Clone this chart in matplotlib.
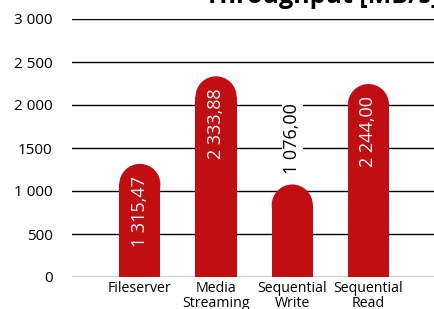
import matplotlib
matplotlib.use("Agg")
import matplotlib.pyplot as plt
from matplotlib.patches import Ellipse

categories = ["Fileserver", "Media\nStreaming", "Sequential\nWrite", "Sequential\nRead"]
values = [1315.47, 2333.88, 1076.00, 2244.00]
value_labels = ["1 315,47", "2 333,88", "1 076,00", "2 244,00"]
yticks = [0, 500, 1000, 1500, 2000, 2500, 3000]
ytick_labels = ["0", "500", "1 000", "1500", "2 000", "2 500", "3 000"]
title = "Throughput [MB/s]"

plt.rcParams["font.family"] = ["Open Sans", "DejaVu Sans"]
RED = "#c10e12"

W, H = 434, 309
fig = plt.figure(figsize=(W / 100, H / 100), dpi=100)
left, right, bottom, top = 72, 434, 277, 19
ax = fig.add_axes([left / W, (H - bottom) / H, (right - left) / W, (bottom - top) / H])

ax.set_xlim(-0.89, 3.86)
ax.set_ylim(0, 3000)

bw = 0.54
px_per_unit = (bottom - top) / 3000
px_per_x = (right - left) / (3.86 + 0.89)
r_y = (bw * px_per_x / 2) / px_per_unit

for y in yticks:
    ax.axhline(y, color="black", lw=1.0, zorder=1)

xs = range(len(values))
ax.bar(xs, [v - r_y for v in values], width=bw, color=RED, zorder=2, linewidth=0)
for i, v in enumerate(values):
    ax.add_patch(Ellipse((i, v - r_y), bw, 2 * r_y, color=RED, zorder=2, lw=0))

for i, (v, lab) in enumerate(zip(values, value_labels)):
    if v > 1200:
        ax.annotate(lab, (i, v), xytext=(0, -12), textcoords="offset pixels",
                    rotation=90, ha="center", va="top", color="white",
                    fontsize=13, zorder=3)
    else:
        ax.annotate(lab, (i, v), xytext=(0, 10), textcoords="offset pixels",
                    rotation=90, ha="center", va="bottom", color="black",
                    fontsize=13, zorder=3,
                    bbox=dict(facecolor="white", edgecolor="none", pad=1))

ax.set_xticks(list(xs))
ax.set_xticklabels(categories, fontsize=10.2, linespacing=0.95)
ax.set_yticks(yticks)
ax.set_yticklabels(ytick_labels, fontsize=11)
ax.tick_params(axis="both", length=0)
ax.tick_params(axis="y", pad=14)
ax.tick_params(axis="x", pad=3)
for s in ax.spines.values():
    s.set_visible(False)

fig.text(205 / W, (H - 3) / H, title, fontsize=18, fontweight="bold",
         ha="left", va="baseline")

fig.savefig("out.png", dpi=100)
